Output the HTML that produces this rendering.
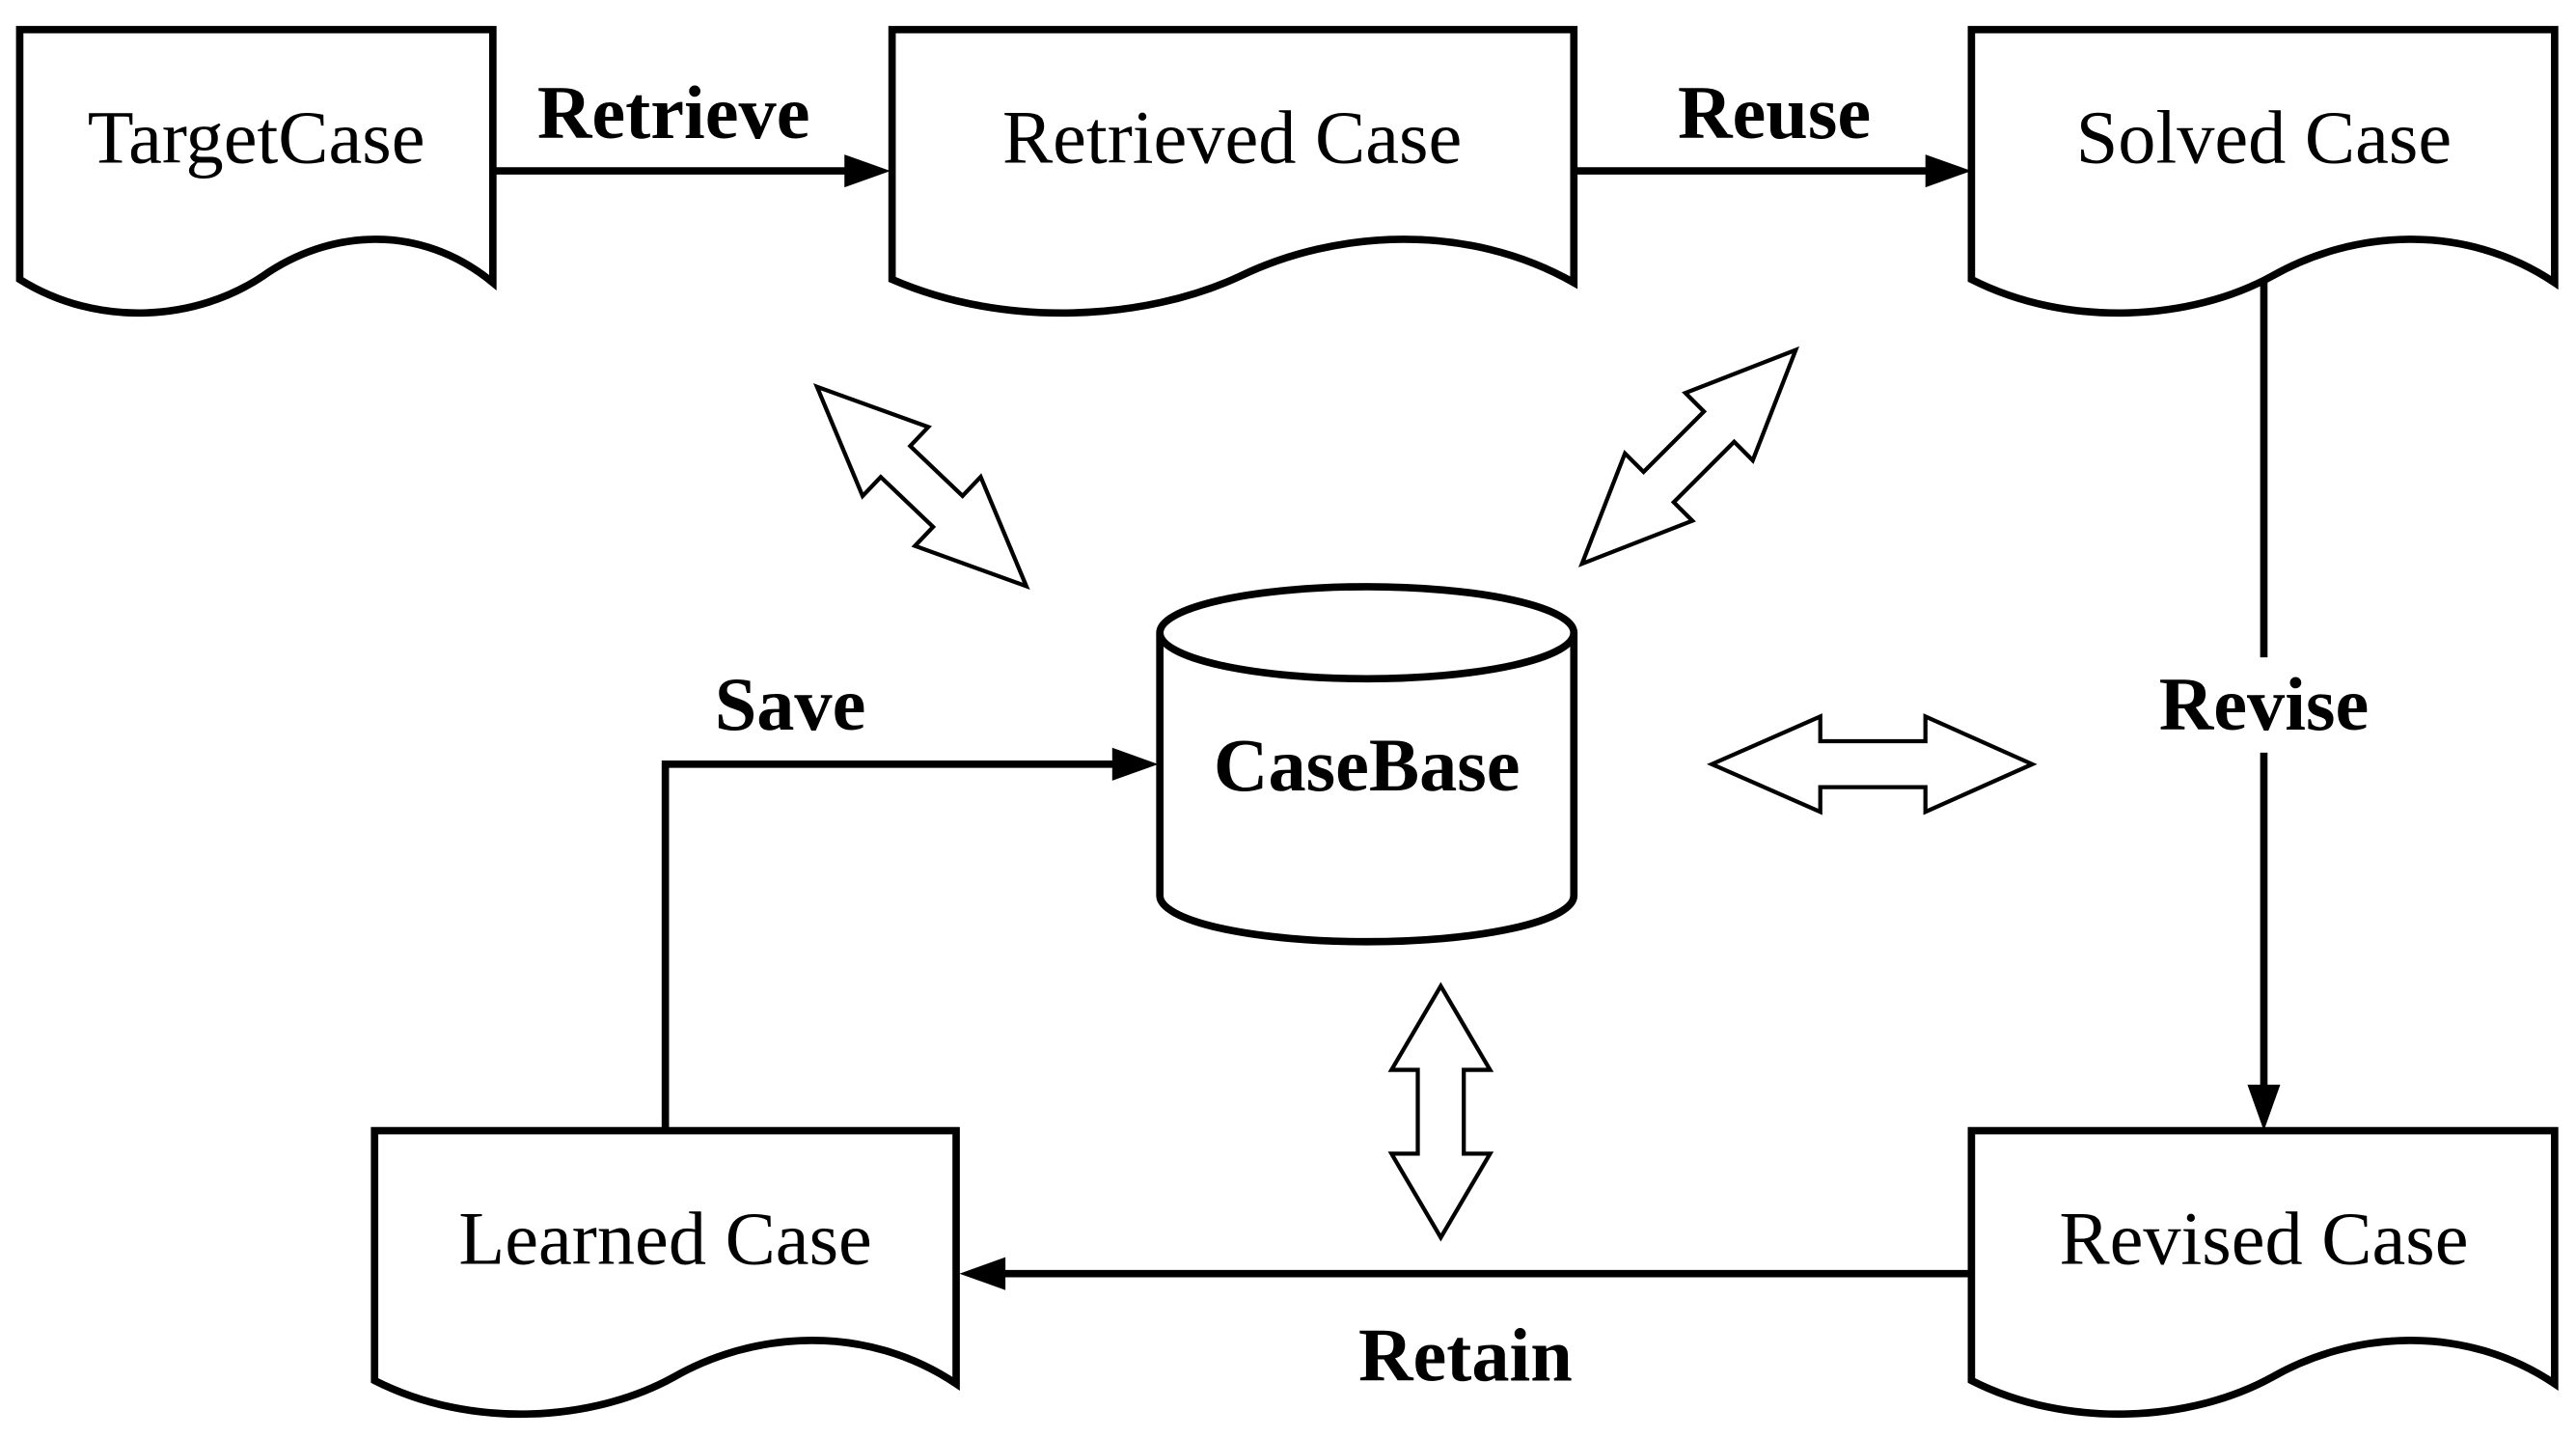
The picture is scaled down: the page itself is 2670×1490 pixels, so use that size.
<!DOCTYPE html>
<html><head><meta charset="utf-8"><style>
html,body{margin:0;padding:0;background:#fff;}
svg{display:block;}
text{font-family:"Liberation Serif",serif;fill:#000;}
.t{font-size:46px;}
.b{font-size:46px;font-weight:bold;}
</style></head><body>
<svg width="2670" height="1490" viewBox="0 0 1568 875" preserveAspectRatio="none" xmlns="http://www.w3.org/2000/svg">
<g fill="none" stroke="#000" stroke-width="4.5">
<path d="M12,18 H300 V172 C255,135 200,140 160,168 C120,195 60,200 12,170 Z"/>
<path d="M543,18 H958 V172 C893,135 813,140 755,168 C697,195 612,200 543,170 Z"/>
<path d="M1200,18 H1555 V172 C1500,135 1432,140 1383,168 C1334,195 1259,200 1200,170 Z"/>
<path d="M228,688 H582 V842 C527,805 459,810 410,838 C361,865 287,870 228,840 Z"/>
<path d="M1200,688 H1555 V842 C1500,805 1432,810 1383,838 C1334,865 1259,870 1200,840 Z"/>
<path d="M706,385 V545 A126,28 0 0 0 958,545 V385"/>
<ellipse cx="832" cy="385" rx="126" ry="28"/>
<line x1="300" y1="104" x2="522" y2="104"/>
<line x1="958" y1="104" x2="1180" y2="104"/>
<line x1="1378" y1="172" x2="1378" y2="400"/>
<line x1="1378" y1="458" x2="1378" y2="668"/>
<line x1="1200" y1="775" x2="604" y2="775"/>
<polyline points="405,688 405,465 685,465"/>
</g>
<g fill="#000">
<polygon points="542,104 514,94 514,114"/>
<polygon points="1200,104 1172,94 1172,114"/>
<polygon points="1378,688 1368,660 1388,660"/>
<polygon points="584,775 612,765 612,785"/>
<polygon points="705,465 677,455 677,475"/>
</g>
<g fill="#fff" stroke="#000" stroke-width="2.5" stroke-linejoin="miter">
<polygon points="1042,465 1108,436 1108,451 1172,451 1172,436 1237,465 1172,494 1172,479 1108,479 1108,494"/>
<polygon points="877,600 907,651 891,651 891,702 907,702 877,753 847,702 863,702 863,651 847,651"/>
<g transform="translate(561,296) rotate(43.6)">
<polygon points="-88,0 -22,-29 -22,-13 22,-13 22,-29 88,0 22,29 22,13 -22,13 -22,29"/>
</g>
<g transform="translate(1028,278) rotate(-45)">
<polygon points="-92,0 -26,-29 -26,-13 26,-13 26,-29 92,0 26,29 26,13 -26,13 -26,29"/>
</g>
</g>
<text class="t" x="156" y="99" text-anchor="middle">TargetCase</text>
<text class="t" x="750" y="99" text-anchor="middle">Retrieved Case</text>
<text class="t" x="1378" y="99" text-anchor="middle">Solved Case</text>
<text class="t" x="405" y="769" text-anchor="middle">Learned Case</text>
<text class="t" x="1378" y="769" text-anchor="middle">Revised Case</text>
<text class="b" x="410" y="84" text-anchor="middle">Retrieve</text>
<text class="b" x="1080" y="84" text-anchor="middle">Reuse</text>
<text class="b" x="1378" y="444" text-anchor="middle">Revise</text>
<text class="b" x="892" y="840" text-anchor="middle">Retain</text>
<text class="b" x="481" y="444" text-anchor="middle">Save</text>
<text class="b" x="832" y="481" text-anchor="middle">CaseBase</text>
</svg>
</body></html>
